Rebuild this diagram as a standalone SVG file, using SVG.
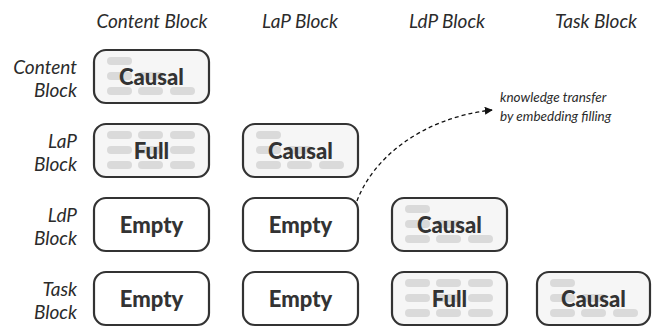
<svg xmlns="http://www.w3.org/2000/svg" width="655" height="327" viewBox="0 0 655 327">
<defs>
<style>
.hdr{font-family:Lato,"Liberation Sans",sans-serif;font-style:italic;font-size:19px;fill:#2b2b2b;text-anchor:middle}
.rl{font-family:Lato,"Liberation Sans",sans-serif;font-style:italic;font-size:19px;fill:#2b2b2b;text-anchor:end}
.box{stroke:#333;stroke-width:2.2;}
.filled{fill:#f6f6f6}
.empty{fill:#ffffff}
.pill{fill:#dadada}
.lbl{font-family:Lato,"Liberation Sans",sans-serif;font-weight:900;font-size:22px;fill:#333;text-anchor:middle}
.note{font-family:Lato,"Liberation Sans",sans-serif;font-style:italic;font-size:13.5px;fill:#2b2b2b}
</style>
<g id="causalPills">
<rect class="pill" x="13" y="7" width="25" height="8" rx="4"/>
<rect class="pill" x="13" y="22" width="25" height="8" rx="4"/>
<rect class="pill" x="44" y="22" width="25" height="8" rx="4"/>
<rect class="pill" x="13" y="37" width="25" height="8" rx="4"/>
<rect class="pill" x="44" y="37" width="25" height="8" rx="4"/>
<rect class="pill" x="76" y="37" width="25" height="8" rx="4"/>
</g>
<g id="fullPills">
<rect class="pill" x="13" y="7" width="25" height="8" rx="4"/>
<rect class="pill" x="44" y="7" width="25" height="8" rx="4"/>
<rect class="pill" x="76" y="7" width="25" height="8" rx="4"/>
<rect class="pill" x="13" y="22" width="25" height="8" rx="4"/>
<rect class="pill" x="44" y="22" width="25" height="8" rx="4"/>
<rect class="pill" x="76" y="22" width="25" height="8" rx="4"/>
<rect class="pill" x="13" y="37" width="25" height="8" rx="4"/>
<rect class="pill" x="44" y="37" width="25" height="8" rx="4"/>
<rect class="pill" x="76" y="37" width="25" height="8" rx="4"/>
</g>
<marker id="arr" viewBox="0 0 10 10" refX="9" refY="5" markerWidth="8" markerHeight="8" markerUnits="userSpaceOnUse" orient="auto">
<path d="M0,0 L10,5 L0,10 z" fill="#111"/>
</marker>
</defs>
<rect width="655" height="327" fill="#fff"/>
<g id="headers">
<text class="hdr" x="152" y="28">Content Block</text>
<text class="hdr" x="300" y="28">LaP Block</text>
<text class="hdr" x="447" y="28">LdP Block</text>
<text class="hdr" x="596" y="28">Task Block</text>
</g>
<g id="rowlabels">
<text class="rl" x="77" y="74">Content</text><text class="rl" x="77" y="97">Block</text>
<text class="rl" x="77" y="148">LaP</text><text class="rl" x="77" y="171">Block</text>
<text class="rl" x="77" y="222">LdP</text><text class="rl" x="77" y="245">Block</text>
<text class="rl" x="77" y="296">Task</text><text class="rl" x="77" y="319">Block</text>
</g>
<g id="n11" transform="translate(94,50)">
<rect class="box filled" x="0" y="0" width="115" height="53" rx="12"/>
<use href="#causalPills"/>
<text class="lbl" x="57.5" y="34.5">Causal</text>
</g>
<g id="n21" transform="translate(94,124)">
<rect class="box filled" x="0" y="0" width="115" height="53" rx="12"/>
<use href="#fullPills"/>
<text class="lbl" x="57.5" y="34.5">Full</text>
</g>
<g id="n22" transform="translate(243,124)">
<rect class="box filled" x="0" y="0" width="115" height="53" rx="12"/>
<use href="#causalPills"/>
<text class="lbl" x="57.5" y="34.5">Causal</text>
</g>
<g id="n31" transform="translate(94,198)">
<rect class="box empty" x="0" y="0" width="115" height="53" rx="12"/>
<text class="lbl" x="57.5" y="34.5">Empty</text>
</g>
<g id="n32" transform="translate(243,198)">
<rect class="box empty" x="0" y="0" width="115" height="53" rx="12"/>
<text class="lbl" x="57.5" y="34.5">Empty</text>
</g>
<g id="n33" transform="translate(392,198)">
<rect class="box filled" x="0" y="0" width="115" height="53" rx="12"/>
<use href="#causalPills"/>
<text class="lbl" x="57.5" y="34.5">Causal</text>
</g>
<g id="n41" transform="translate(94,272)">
<rect class="box empty" x="0" y="0" width="115" height="53" rx="12"/>
<text class="lbl" x="57.5" y="34.5">Empty</text>
</g>
<g id="n42" transform="translate(243,272)">
<rect class="box empty" x="0" y="0" width="115" height="53" rx="12"/>
<text class="lbl" x="57.5" y="34.5">Empty</text>
</g>
<g id="n43" transform="translate(392,272)">
<rect class="box filled" x="0" y="0" width="115" height="53" rx="12"/>
<use href="#fullPills"/>
<text class="lbl" x="57.5" y="34.5">Full</text>
</g>
<g id="n44" transform="translate(537,272)">
<rect class="box filled" x="0" y="0" width="113" height="53" rx="12"/>
<use href="#causalPills"/>
<text class="lbl" x="56.5" y="34.5">Causal</text>
</g>
<g id="connectors">
<path d="M357,201 C372,160 420,118 492,110" fill="none" stroke="#111" stroke-width="1.3" stroke-dasharray="4,3" marker-end="url(#arr)"/>
</g>
<g id="note">
<text class="note" x="500" y="102">knowledge transfer</text>
<text class="note" x="500" y="121">by embedding filling</text>
</g>
</svg>
